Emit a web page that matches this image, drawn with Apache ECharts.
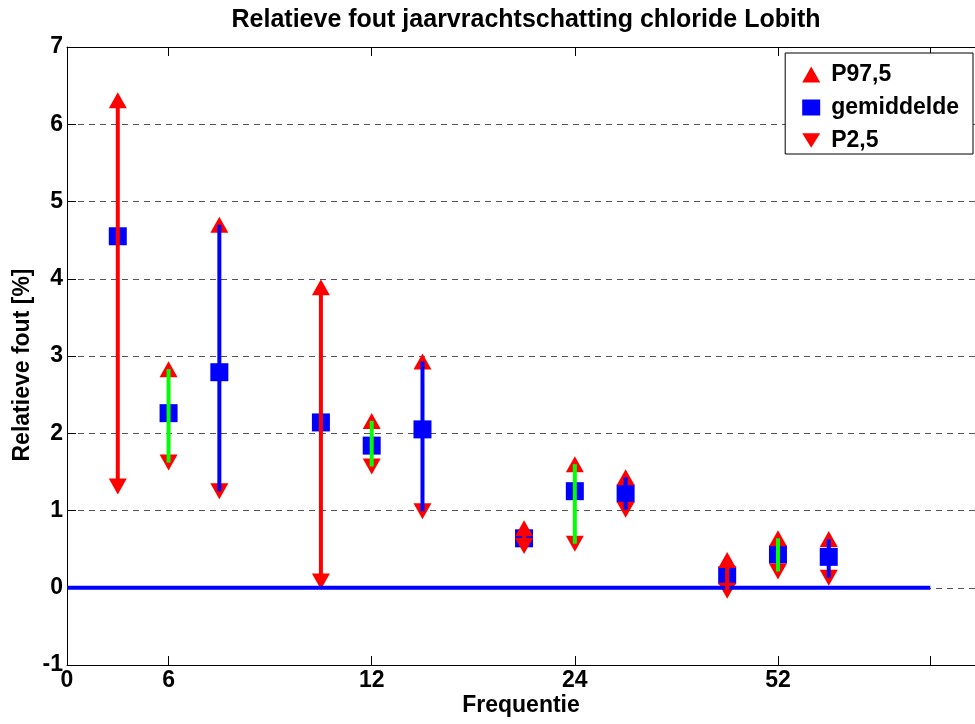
<!DOCTYPE html>
<html>
<head>
<meta charset="utf-8">
<title>Relatieve fout jaarvrachtschatting chloride Lobith</title>
<script src="https://cdn.jsdelivr.net/npm/echarts@6/dist/echarts.min.js"></script>
<style>
  html, body { margin: 0; padding: 0; background: #ffffff; }
  #chart { width: 975px; height: 724px; }
</style>
</head>
<body>
<div id="chart"></div>
<script>
// Positions on the x axis: three estimation methods per sampling frequency
const xPositions = [0.5, 1, 1.5, 2.5, 3, 3.5, 4.5, 5, 5.5, 6.5, 7, 7.5];
// Method of each position (0 = red, 1 = green, 2 = blue error bar)
const methodIndex = [0, 1, 2, 0, 1, 2, 0, 1, 2, 0, 1, 2];

// Relative error [%] per position
const p975 = [6.31, 2.83, 4.70, 3.89, 2.16, 2.93, 0.77, 1.60, 1.43, 0.36, 0.64, 0.63];
const gemiddelde = [4.55, 2.26, 2.79, 2.14, 1.84, 2.05, 0.64, 1.25, 1.22, 0.16, 0.43, 0.40];
const p25 = [1.31, 1.62, 1.25, 0.08, 1.57, 0.99, 0.54, 0.57, 1.01, -0.04, 0.21, 0.13];

// Frequency ticks (samples per year)
const tickValues = [0, 1, 3, 5, 7, 8.5];
const labelValues = [0, 1, 3, 5, 7];
const tickLabels = ['0', '6', '12', '24', '52'];

// Horizontal reference line at zero error
const zeroLine = [[0, 0], [8.5, 0]];

const methodColors = ['#ff0000', '#00ff00', '#0000ff'];
const FONT = '"Liberation Sans", Arial, Helvetica, sans-serif';
const DOWN_TRIANGLE = 'path://M0,0L20,0L10,16Z';

const chart = echarts.init(document.getElementById('chart'), null, { renderer: 'canvas' });

const barData = xPositions.map((x, i) => [x, p25[i], p975[i], methodIndex[i]]);
const pairs = (ys) => xPositions.map((x, i) => [x, ys[i]]);

const option = {
  animation: false,
  backgroundColor: '#ffffff',
  title: {
    text: 'Relatieve fout jaarvrachtschatting chloride Lobith',
    left: 521,
    top: 3,
    textAlign: 'center',
    textStyle: { fontFamily: FONT, fontWeight: 'bold', fontSize: 25, color: '#000' }
  },
  legend: {
    orient: 'vertical',
    right: 2,
    top: 53,
    padding: [10, 14, 2, 17],
    itemGap: 10,
    itemWidth: 18,
    itemHeight: 16,
    backgroundColor: '#ffffff',
    borderColor: '#000000',
    borderWidth: 1,
    borderRadius: 0,
    textStyle: {
      fontFamily: FONT, fontWeight: 'bold', fontSize: 23, color: '#000',
      lineHeight: 22, padding: [0, 0, 0, 6]
    },
    data: [
      { name: 'P97,5', icon: 'triangle' },
      { name: 'gemiddelde', icon: 'rect' },
      { name: 'P2,5', icon: DOWN_TRIANGLE }
    ]
  },
  grid: { left: 67, right: 0, top: 47, bottom: 59, containLabel: false },
  xAxis: [
    {
      type: 'value',
      position: 'bottom',
      min: 0,
      max: 8.94,
      name: 'Frequentie',
      nameLocation: 'middle',
      nameGap: 29,
      nameMoveOverlap: false,
      nameTextStyle: { fontFamily: FONT, fontWeight: 'bold', fontSize: 23, color: '#000' },
      axisLine: { show: true, onZero: false, lineStyle: { color: '#000', width: 1 } },
      axisTick: { show: true, inside: true, length: 9, customValues: tickValues, lineStyle: { color: '#000' } },
      axisLabel: {
        show: true, margin: 4, customValues: labelValues,
        fontFamily: FONT, fontWeight: 'bold', fontSize: 23, color: '#000',
        formatter: (v) => tickLabels[labelValues.indexOf(v)] ?? ''
      },
      splitLine: { show: false }
    },
    {
      type: 'value',
      position: 'top',
      min: 0,
      max: 8.94,
      axisLine: { show: true, onZero: false, lineStyle: { color: '#000', width: 1 } },
      axisTick: { show: true, inside: true, length: 9, customValues: tickValues, lineStyle: { color: '#000' } },
      axisLabel: { show: false },
      splitLine: { show: false }
    }
  ],
  yAxis: {
    type: 'value',
    min: -1,
    max: 7,
    interval: 1,
    name: 'Relatieve fout [%]',
    nameLocation: 'middle',
    nameGap: 33,
    nameMoveOverlap: false,
    nameTextStyle: {
      fontFamily: FONT, fontWeight: 'bold', fontSize: 23, color: '#000',
      padding: [0, 18, 0, 0]
    },
    axisLine: { show: true, onZero: false, lineStyle: { color: '#000', width: 1 } },
    axisTick: { show: true, inside: true, length: 9, lineStyle: { color: '#000' } },
    axisLabel: { margin: 4, fontFamily: FONT, fontWeight: 'bold', fontSize: 23, color: '#000' },
    splitLine: {
      show: true,
      showMinLine: false,
      showMaxLine: false,
      lineStyle: { color: '#555555', width: 1, type: [6, 5] }
    }
  },
  series: [
    {
      name: 'gemiddelde',
      type: 'scatter',
      symbol: 'rect',
      symbolSize: 18,
      itemStyle: { color: '#0000ff', opacity: 1 },
      z: 3,
      data: pairs(gemiddelde)
    },
    {
      name: 'P97,5',
      type: 'scatter',
      symbol: 'triangle',
      symbolSize: [18, 16],
      itemStyle: { color: '#ff0000', opacity: 1 },
      z: 4,
      data: pairs(p975)
    },
    {
      name: 'P2,5',
      type: 'scatter',
      symbol: DOWN_TRIANGLE,
      symbolSize: [18, 16],
      itemStyle: { color: '#ff0000', opacity: 1 },
      z: 4,
      data: pairs(p25)
    },
    {
      type: 'line',
      data: zeroLine,
      showSymbol: false,
      symbol: 'none',
      lineStyle: { color: '#0000ff', width: 4 },
      z: 5,
      silent: true
    },
    {
      type: 'custom',
      z: 6,
      silent: true,
      encode: { x: 0, y: [1, 2] },
      data: barData,
      renderItem: (params, api) => {
        const x = api.value(0);
        const lo = api.coord([x, api.value(1)]);
        const hi = api.coord([x, api.value(2)]);
        return {
          type: 'line',
          shape: { x1: lo[0], y1: lo[1], x2: hi[0], y2: hi[1] },
          style: { stroke: methodColors[api.value(3)], lineWidth: 4 }
        };
      }
    }
  ]
};

chart.setOption(option);
</script>
</body>
</html>
